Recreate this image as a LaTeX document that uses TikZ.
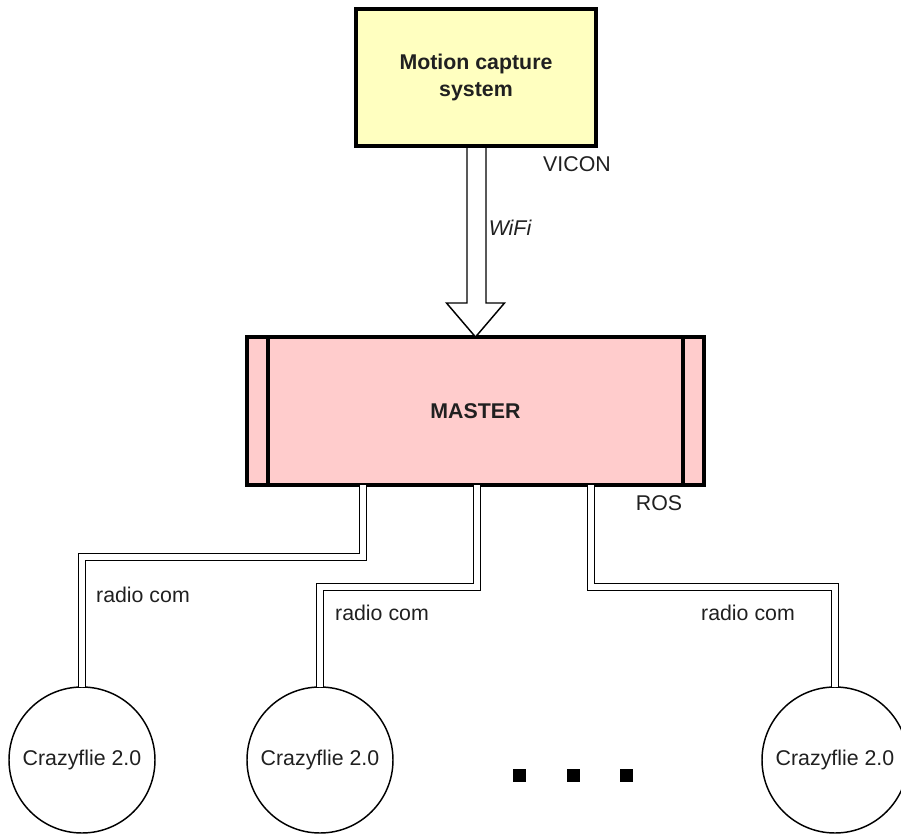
\documentclass[tikz,border=0pt]{standalone}
\usepackage{fontspec}
\setmainfont{Liberation Sans}
\usetikzlibrary{calc}
\definecolor{ylw}{HTML}{FFFFC0}
\definecolor{pnk}{HTML}{FFCCCC}
\definecolor{txt}{HTML}{202020}
\begin{document}
\begin{tikzpicture}[x=0.75pt,y=-0.75pt,
  bigbox/.style={draw=black,line width=3pt,outer sep=0pt,inner sep=0pt,align=center,
     font=\fontsize{16}{20}\selectfont\bfseries,text=txt},
  drone/.style={circle,draw=black,line width=1.1pt,fill=white,minimum size=109.5pt,inner sep=0pt,outer sep=0pt,
     font=\fontsize{16}{19}\selectfont,text=txt},
  lbl/.style={font=\fontsize{16}{19}\selectfont,text=txt,inner sep=0pt},
  dbl/.style={draw=black,line width=1.1pt,double=white,double distance=4pt,line join=miter},
  dot/.style={fill=black,minimum size=9.75pt,inner sep=0pt}]
\useasboundingbox (0,0) rectangle (901,835);
% Motion capture box
\node[bigbox,fill=ylw,minimum width=180pt,minimum height=102.75pt] (mcs) at (476,77.5) {Motion capture\\system};
% Master box
\node[bigbox,fill=pnk,minimum width=342.75pt,minimum height=111pt] (master) at (475.5,411) {\raisebox{-2pt}{MASTER}};
\draw[line width=3pt] ($(master.north west)+(21,0)$) -- ($(master.south west)+(21,0)$);
\draw[line width=3pt] ($(master.north east)+(-21,0)$) -- ($(master.south east)+(-21,0)$);
% WiFi arrow
\coordinate (a1) at ($(mcs.south)+(-9,2)$);
\coordinate (a2) at ($(mcs.south)+(10,2)$);
\filldraw[fill=white,draw=black,line width=1.1pt,line join=miter]
  (a1) -- (a1 |- 0,303) -- ($(master.north)+(-29,-34)$) -- (master.north)
  -- ($(master.north)+(29,-34)$) -- (a2 |- 0,303) -- (a2);
\node[lbl,font=\fontsize{16}{19}\selectfont\itshape] (wifi) at (510,228) {WiFi};
\node[lbl] (vicon) at (577,164) {VICON};
\node[lbl] (ros) at (659,503) {ROS};
% drones
\node[drone] (c1) at (82,760) {Crazyflie 2.0};
\node[drone] (c2) at (320,760) {Crazyflie 2.0};
\node[drone] (c3) at (835,760) {Crazyflie 2.0};
% connectors
\coordinate (m1) at ($(master.south)+(-112.5,0)$);
\coordinate (m2) at ($(master.south)+(1.5,0)$);
\coordinate (m3) at ($(master.south)+(115.5,0)$);
\draw[dbl] (m1) -- (m1 |- 0,557) -| (c1.north);
\draw[dbl] (m2) -- (m2 |- 0,587) -| (c2.north);
\draw[dbl] (m3) -- (m3 |- 0,587) -| (c3.north);
\node[lbl] (r1) at (143,595) {radio com};
\node[lbl] (r2) at (382,613) {radio com};
\node[lbl] (r3) at (748,613) {radio com};
% dots
\node[dot] (d1) at (519,775) {};
\node[dot] (d2) at (573,775) {};
\node[dot] (d3) at (626,775) {};
\end{tikzpicture}
\end{document}
